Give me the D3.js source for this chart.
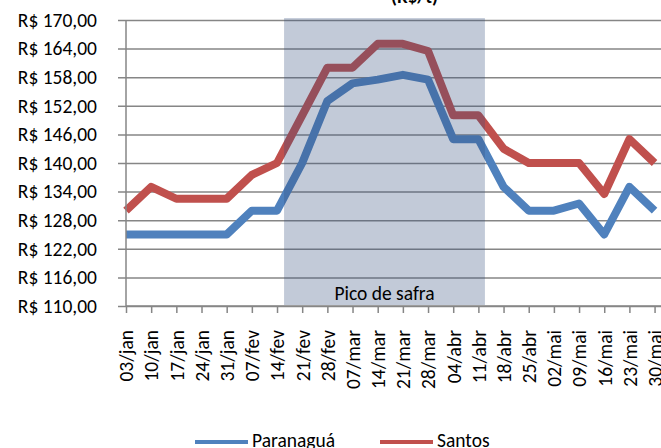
<!DOCTYPE html>
<html>
<head>
<meta charset="utf-8">
<script src="https://cdn.jsdelivr.net/npm/d3@7"></script>
<style>
  body { margin: 0; background: #fff; }
  svg { display: block; font-family: Carlito, Calibri, Lato, sans-serif; }
  .axis text { fill: #000; }
</style>
</head>
<body>
<main></main>
<script>
const categories = ['03/jan', '10/jan', '17/jan', '24/jan', '31/jan', '07/fev', '14/fev', '21/fev',
  '28/fev', '07/mar', '14/mar', '21/mar', '28/mar', '04/abr', '11/abr', '18/abr', '25/abr',
  '02/mai', '09/mai', '16/mai', '23/mai', '30/mai'];

const paranagua = [125, 125, 125, 125, 125, 130, 130, 140, 153, 156.7, 157.5, 158.5, 157.5,
  145, 145, 135, 130, 130, 131.5, 125, 135, 130];

const santos = [130, 135, 132.5, 132.5, 132.5, 137.5, 140, 150, 160, 160, 165, 165, 163.5,
  150, 150, 143, 140, 140, 140, 133.5, 145, 140];

const yTicks = [110, 116, 122, 128, 134, 140, 146, 152, 158, 164, 170];

// peak harvest band, in category index units
const safraStart = 6.28;
const safraEnd = 14.26;

const series = [
  { name: 'Paranaguá', values: paranagua, color: '#4f81bd' },
  { name: 'Santos', values: santos, color: '#c0504d' }
];

const W = 661, H = 448;
const plotLeft = 126, plotTop = 20, plotBottom = 306;
const step = 25.17;
const plotRight = plotLeft + step * (categories.length - 1);

const svg = d3.select('main').append('svg')
  .attr('width', W)
  .attr('height', H);

const x = d3.scalePoint().domain(categories).range([plotLeft, plotRight]);
const y = d3.scaleLinear().domain([110, 170]).range([plotBottom, plotTop]);

const fmt = v => 'R$ ' + d3.format('.2f')(v).replace('.', ',');

// title (mostly outside the crop)
svg.append('text')
  .attr('x', 438)
  .attr('y', 3)
  .attr('text-anchor', 'end')
  .attr('font-weight', 'bold')
  .attr('font-size', 19)
  .text('(R$/t)');

// gridlines + y labels
const yAxis = svg.append('g')
  .attr('class', 'axis')
  .attr('transform', `translate(${plotLeft},0)`)
  .call(d3.axisLeft(y).tickValues(yTicks).tickSize(0).tickPadding(29).tickFormat(fmt));
yAxis.select('.domain').remove();
yAxis.selectAll('.tick line')
  .attr('x1', -8)
  .attr('x2', W - plotLeft)
  .attr('stroke', '#868686')
  .attr('stroke-width', 1.5);
yAxis.selectAll('.tick text')
  .attr('font-size', 19.5)
  .attr('font-family', 'Carlito, Calibri, Lato, sans-serif');

// lines
const line = d3.line()
  .x((d, i) => x(categories[i]))
  .y(d => y(d));

svg.selectAll('.series')
  .data(series)
  .enter()
  .append('path')
  .attr('class', 'series')
  .attr('d', d => line(d.values))
  .attr('fill', 'none')
  .attr('stroke', d => d.color)
  .attr('stroke-width', 8)
  .attr('stroke-linejoin', 'round');

// shaded "Pico de safra" band on top of the lines
const xi = i => plotLeft + i * x.step();
svg.append('rect')
  .attr('x', xi(safraStart))
  .attr('y', y(170.4))
  .attr('width', xi(safraEnd) - xi(safraStart))
  .attr('height', y(110) - y(170.4) - 1)
  .attr('fill', 'rgb(52,78,125)')
  .attr('fill-opacity', 0.3);

svg.append('text')
  .attr('x', (xi(safraStart) + xi(safraEnd)) / 2)
  .attr('y', 300)
  .attr('text-anchor', 'middle')
  .attr('font-size', 19.5)
  .text('Pico de safra');

// y axis line
svg.append('line')
  .attr('x1', plotLeft).attr('x2', plotLeft)
  .attr('y1', plotTop).attr('y2', plotBottom)
  .attr('stroke', '#868686')
  .attr('stroke-width', 1.5);

// x axis
const xAxis = svg.append('g')
  .attr('class', 'axis')
  .attr('transform', `translate(0,${plotBottom})`)
  .call(d3.axisBottom(x).tickSizeInner(7).tickSizeOuter(0).tickPadding(24));
xAxis.select('.domain')
  .attr('d', `M${plotLeft},0H${W}`)
  .attr('stroke', '#868686')
  .attr('stroke-width', 1.5);
xAxis.selectAll('.tick line')
  .attr('stroke', '#868686')
  .attr('stroke-width', 1.5);
xAxis.selectAll('.tick text')
  .attr('font-size', 19.5)
  .attr('font-family', 'Carlito, Calibri, Lato, sans-serif')
  .attr('text-anchor', 'end')
  .attr('transform', 'rotate(-90)')
  .attr('x', -24)
  .attr('y', 0)
  .attr('dy', '0.35em');

// legend
const legend = svg.append('g').selectAll('g')
  .data(series)
  .enter()
  .append('g')
  .attr('transform', (d, i) => `translate(${195 + i * 185},0)`);

legend.append('line')
  .attr('x1', 0).attr('x2', 53)
  .attr('y1', 442).attr('y2', 442)
  .attr('stroke', d => d.color)
  .attr('stroke-width', 4);

legend.append('text')
  .attr('x', 57)
  .attr('y', 447)
  .attr('font-size', 19.5)
  .text(d => d.name);
</script>
</body>
</html>
